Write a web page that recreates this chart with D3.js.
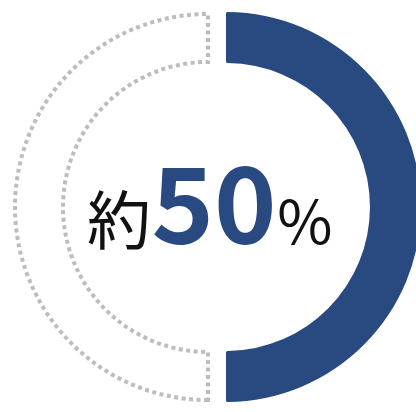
<!DOCTYPE html>
<html>
<head>
<meta charset="utf-8">
<script src="https://cdn.jsdelivr.net/npm/d3@7"></script>
<style>
  html, body { margin: 0; padding: 0; background: #fff; }
  svg { display: block; }
</style>
</head>
<body>
<svg id="chart" width="416" height="412"></svg>
<script>
// Share split shown by the ring: filled part vs remaining part
const segments = ["該当", "その他"];
const shares = [50, 50];
const labelPrefix = "約";
const labelValue = "50";
const labelSuffix = "%";

const svg = d3.select("#chart");

const blue = "#294a81";
const grey = "#bdbdbd";

// Pie layout starting at 12 o'clock, clockwise
const pie = d3.pie().sort(null).value(d => d)
  .startAngle(0).endAngle(2 * Math.PI);
const arcs = pie(shares);

// Filled segment (right half), shifted slightly right of the ring's centre
const filledArc = d3.arc().innerRadius(144).outerRadius(195).cornerRadius(1.5);
svg.append("path")
  .attr("transform", "translate(226,207)")
  .attr("d", filledArc(arcs[0]))
  .attr("fill", blue);

// Remaining segment (left half) drawn as a dotted outline
const restArc = d3.arc().innerRadius(145).outerRadius(193);
svg.append("path")
  .attr("transform", "translate(208,207)")
  .attr("d", restArc(arcs[1]))
  .attr("fill", "none")
  .attr("stroke", grey)
  .attr("stroke-width", 4)
  .attr("stroke-dasharray", "4 3.5");

// Centre label: prefix, value and unit set as separate pieces on one baseline
const font = "'Noto Sans CJK JP', 'Noto Sans', sans-serif";
const baseline = 244;
const pieces = [
  { text: labelPrefix, x: 119, size: 64, weight: 400, color: "#111" },
  { text: labelValue,  x: 214, size: 106, weight: 700, color: blue },
  { text: labelSuffix, x: 305, size: 60, weight: 400, color: "#111" }
];
svg.append("g").selectAll("text")
  .data(pieces)
  .join("text")
  .attr("x", d => d.x)
  .attr("y", baseline)
  .attr("text-anchor", "middle")
  .attr("font-family", font)
  .attr("font-size", d => d.size)
  .attr("font-weight", d => d.weight)
  .attr("fill", d => d.color)
  .text(d => d.text);
</script>
</body>
</html>
